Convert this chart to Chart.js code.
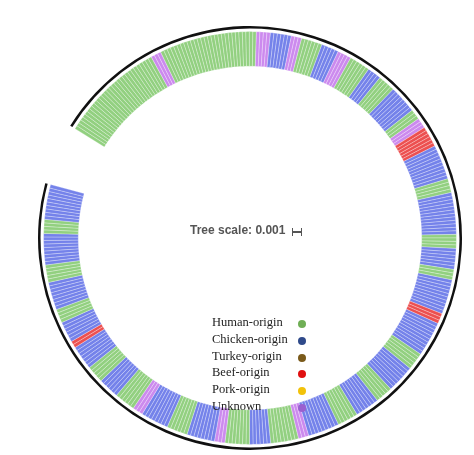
<!DOCTYPE html><html><head><script src="https://cdn.jsdelivr.net/npm/chart.js@4"></script>
<style>body{margin:0;background:#fff}#w{position:relative;width:474px;height:455px}
#t{position:absolute;left:190px;top:223px;font:bold 12px "Liberation Sans",Arial;color:#555}
#bar{position:absolute;left:292px;top:231px;width:10px;height:2px;background:#555}
#bar:before,#bar:after{content:"";position:absolute;top:-3px;width:1px;height:8px;background:#555}
#bar:before{left:0}#bar:after{right:0}
.l{position:absolute;left:212px;font:12.5px "Liberation Serif","DejaVu Serif";color:#222}
.d{position:absolute;left:298px;width:8px;height:8px;border-radius:50%}</style></head><body>
<div id="w"><canvas id="c" width="474" height="455"></canvas>
<div id="t">Tree scale: 0.001</div><div id="bar"></div><div id="lg"></div></div>
<script>
const legendLabels=["Human-origin","Chicken-origin","Turkey-origin","Beef-origin","Pork-origin","Unknown"];
const legendColors=["#6fae55","#2f4a8a","#7a5a1a","#e01010","#f2c20a","#9a60d0"];
// leaf blocks clockwise from upper-left: origin code (0 human,1 chicken,3 beef,5 unknown) and leaf counts
const blockOrigin=[0,5,0,0,5,1,5,0,1,5,0,1,0,1,0,5,3,1,0,1,0,1,0,1,3,1,0,1,0,1,0,1,5,0,1,0,5,1,0,1,5,0,1,0,1,3,1,0,1,0,1,0,1];
const blockCount=[30,3,18,10,4,6,3,6,5,4,6,4,5,8,3,3,6,10,4,12,4,6,3,10,3,10,5,8,5,7,6,9,3,8,6,7,3,8,6,8,3,6,6,5,7,2,6,4,8,5,9,4,10];
const leafCols=["#92d080","#7482ea","#9a7a3a","#ec5050","#f0c030","#cc8aee"];
const leafData=[],leafColors=[];
blockOrigin.forEach((o,i)=>{for(let k=0;k<blockCount[i];k++){leafData.push(1);leafColors.push(leafCols[o]);}});
const lg=document.getElementById('lg');
legendLabels.forEach((s,i)=>{const y=315+i*16.8;lg.innerHTML+=`<div class="l" style="top:${y}px">${s}</div><div class="d" style="top:${y+5}px;background:${legendColors[i]}"></div>`;});
new Chart(document.getElementById('c'),{type:'doughnut',data:{datasets:[
{data:[1],backgroundColor:['#111'],borderWidth:0,weight:0.25},
{data:[1],backgroundColor:['rgba(0,0,0,0)'],borderWidth:0,weight:0.3},
{data:leafData,backgroundColor:leafColors,borderColor:'rgba(255,255,255,0.7)',borderWidth:0.4,weight:3.4}]},
options:{responsive:false,animation:false,rotation:302,circumference:343,cutout:'81%',
layout:{padding:{left:26,right:0,top:26,bottom:5}},plugins:{legend:{display:false},tooltip:{enabled:false}}}});
</script></body></html>
